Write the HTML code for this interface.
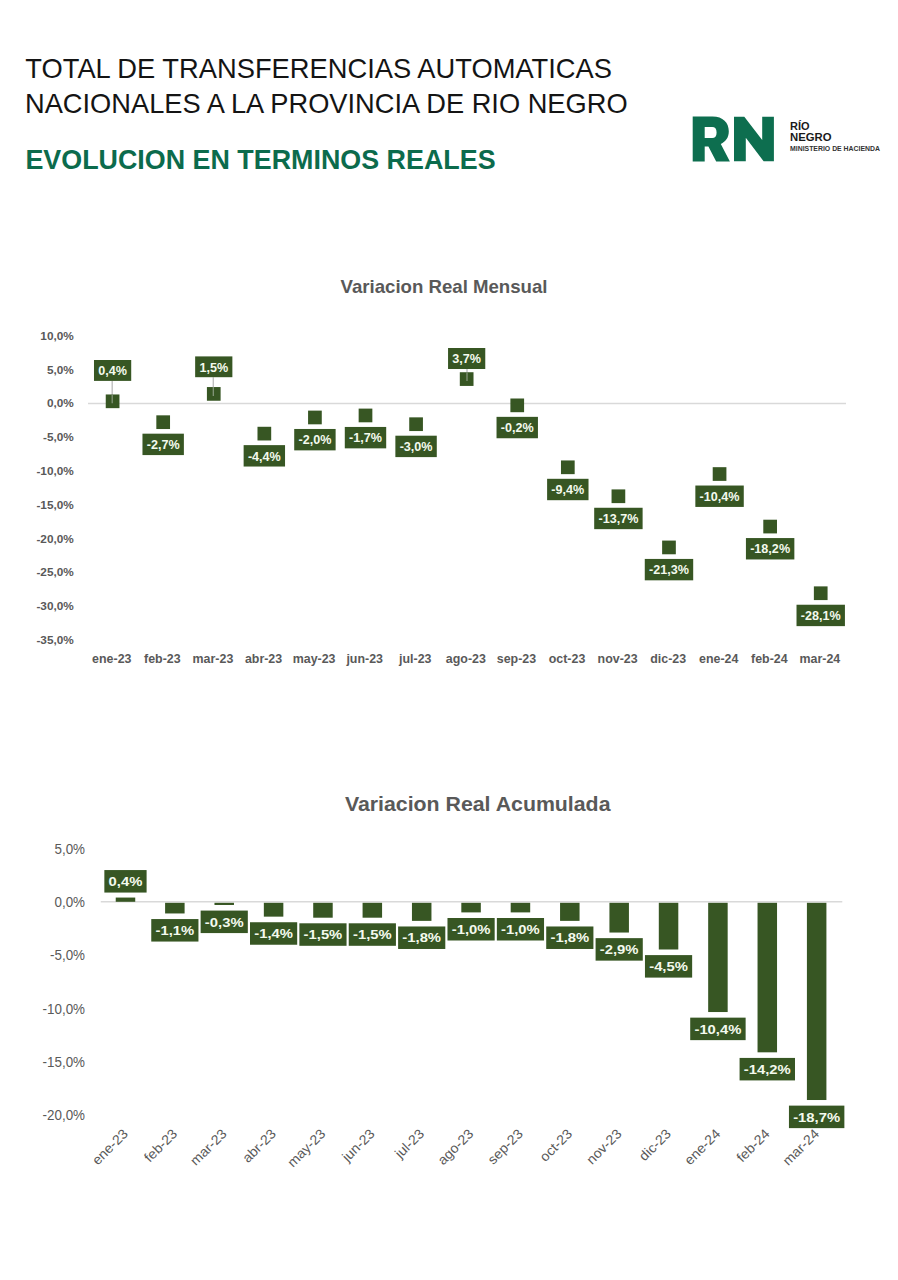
<!DOCTYPE html><html><head><meta charset="utf-8"><style>html,body{margin:0;padding:0;background:#fff;}svg{display:block;}text{font-family:"Liberation Sans",sans-serif;}</style></head><body>
<svg width="898" height="1280" viewBox="0 0 898 1280">
<rect width="898" height="1280" fill="#fff"/>
<text x="25.3" y="77.9" font-size="27.6" fill="#141414" textLength="586.7" lengthAdjust="spacingAndGlyphs">TOTAL DE TRANSFERENCIAS AUTOMATICAS</text>
<text x="25" y="113.2" font-size="27.6" fill="#141414" textLength="602.6" lengthAdjust="spacingAndGlyphs">NACIONALES A LA PROVINCIA DE RIO NEGRO</text>
<text x="25.4" y="169.1" font-size="27.4" font-weight="bold" fill="#0c6b4c" textLength="470.2" lengthAdjust="spacingAndGlyphs">EVOLUCION EN TERMINOS REALES</text>
<path fill="#0d6e4f" fill-rule="evenodd" d="M692.7,116.4 L712.5,116.4 C723,116.4 728.8,122.5 728.8,131.3 C728.8,137.5 725.8,141.8 720.8,143.9 L729.9,161.5 L716.2,161.5 L708.4,146.6 L704.7,146.6 L704.7,161.5 L692.7,161.5 Z M704.7,127 L712.2,127 C715,127 716.6,128.8 716.6,132.5 C716.6,136.2 715,138.1 712.2,138.1 L704.7,138.1 Z"/>
<path fill="#0d6e4f" d="M734,116.7 L744.3,116.7 L762.2,140 L762.2,116.7 L773.9,116.7 L773.9,161.2 L763.6,161.2 L745.8,137.8 L745.8,161.2 L734,161.2 Z"/>
<text x="790" y="130.3" font-size="11" font-weight="bold" fill="#1a1a1a" textLength="19.5" lengthAdjust="spacingAndGlyphs">RÍO</text>
<text x="790" y="140.7" font-size="11" font-weight="bold" fill="#1a1a1a" textLength="41.5" lengthAdjust="spacingAndGlyphs">NEGRO</text>
<text x="790" y="150.8" font-size="7.2" font-weight="bold" fill="#333" textLength="90" lengthAdjust="spacingAndGlyphs">MINISTERIO DE HACIENDA</text>
<text x="340.5" y="293.3" font-size="18.6" font-weight="bold" fill="#595959" textLength="207" lengthAdjust="spacingAndGlyphs">Variacion Real Mensual</text>
<text x="73.8" y="339.9" font-size="11.8" font-weight="bold" fill="#595959" text-anchor="end">10,0%</text>
<text x="73.8" y="373.7" font-size="11.8" font-weight="bold" fill="#595959" text-anchor="end">5,0%</text>
<text x="73.8" y="407.4" font-size="11.8" font-weight="bold" fill="#595959" text-anchor="end">0,0%</text>
<text x="73.8" y="441.2" font-size="11.8" font-weight="bold" fill="#595959" text-anchor="end">-5,0%</text>
<text x="73.8" y="475.0" font-size="11.8" font-weight="bold" fill="#595959" text-anchor="end">-10,0%</text>
<text x="73.8" y="508.8" font-size="11.8" font-weight="bold" fill="#595959" text-anchor="end">-15,0%</text>
<text x="73.8" y="542.5" font-size="11.8" font-weight="bold" fill="#595959" text-anchor="end">-20,0%</text>
<text x="73.8" y="576.3" font-size="11.8" font-weight="bold" fill="#595959" text-anchor="end">-25,0%</text>
<text x="73.8" y="610.1" font-size="11.8" font-weight="bold" fill="#595959" text-anchor="end">-30,0%</text>
<text x="73.8" y="643.8" font-size="11.8" font-weight="bold" fill="#595959" text-anchor="end">-35,0%</text>
<line x1="88" y1="403.5" x2="846" y2="403.5" stroke="#D9D9D9" stroke-width="1.3"/>
<text x="92.13" y="663" font-size="12.4" font-weight="bold" fill="#595959" textLength="39.35" lengthAdjust="spacingAndGlyphs">ene-23</text>
<text x="144.09" y="663" font-size="12.4" font-weight="bold" fill="#595959" textLength="36.58" lengthAdjust="spacingAndGlyphs">feb-23</text>
<rect x="156.33" y="415.33" width="13.7" height="13.7" fill="#375623"/>
<rect x="142.47" y="433.68" width="41.41" height="21.4" fill="#375623"/>
<text x="163.18" y="449.08" font-size="12.6" font-weight="bold" fill="#F4FAEE" text-anchor="middle">-2,7%</text>
<text x="192.59" y="663" font-size="12.4" font-weight="bold" fill="#595959" textLength="40.73" lengthAdjust="spacingAndGlyphs">mar-23</text>
<text x="244.90" y="663" font-size="12.4" font-weight="bold" fill="#595959" textLength="37.28" lengthAdjust="spacingAndGlyphs">abr-23</text>
<rect x="257.49" y="426.78" width="13.7" height="13.7" fill="#375623"/>
<rect x="243.63" y="445.13" width="41.41" height="21.4" fill="#375623"/>
<text x="264.34" y="460.53" font-size="12.6" font-weight="bold" fill="#F4FAEE" text-anchor="middle">-4,4%</text>
<text x="292.72" y="663" font-size="12.4" font-weight="bold" fill="#595959" textLength="42.81" lengthAdjust="spacingAndGlyphs">may-23</text>
<rect x="308.07" y="410.62" width="13.7" height="13.7" fill="#375623"/>
<rect x="294.21" y="428.97" width="41.41" height="21.4" fill="#375623"/>
<text x="314.92" y="444.37" font-size="12.6" font-weight="bold" fill="#F4FAEE" text-anchor="middle">-2,0%</text>
<text x="346.41" y="663" font-size="12.4" font-weight="bold" fill="#595959" textLength="36.57" lengthAdjust="spacingAndGlyphs">jun-23</text>
<rect x="358.65" y="408.60" width="13.7" height="13.7" fill="#375623"/>
<rect x="344.79" y="426.95" width="41.41" height="21.4" fill="#375623"/>
<text x="365.50" y="442.35" font-size="12.6" font-weight="bold" fill="#F4FAEE" text-anchor="middle">-1,7%</text>
<text x="399.06" y="663" font-size="12.4" font-weight="bold" fill="#595959" textLength="32.44" lengthAdjust="spacingAndGlyphs">jul-23</text>
<rect x="409.23" y="417.35" width="13.7" height="13.7" fill="#375623"/>
<rect x="395.37" y="435.70" width="41.41" height="21.4" fill="#375623"/>
<text x="416.08" y="451.10" font-size="12.6" font-weight="bold" fill="#F4FAEE" text-anchor="middle">-3,0%</text>
<text x="445.85" y="663" font-size="12.4" font-weight="bold" fill="#595959" textLength="40.03" lengthAdjust="spacingAndGlyphs">ago-23</text>
<text x="496.77" y="663" font-size="12.4" font-weight="bold" fill="#595959" textLength="39.35" lengthAdjust="spacingAndGlyphs">sep-23</text>
<rect x="510.39" y="398.50" width="13.7" height="13.7" fill="#375623"/>
<rect x="496.53" y="416.85" width="41.41" height="21.4" fill="#375623"/>
<text x="517.24" y="432.25" font-size="12.6" font-weight="bold" fill="#F4FAEE" text-anchor="middle">-0,2%</text>
<text x="548.73" y="663" font-size="12.4" font-weight="bold" fill="#595959" textLength="36.58" lengthAdjust="spacingAndGlyphs">oct-23</text>
<rect x="560.97" y="460.45" width="13.7" height="13.7" fill="#375623"/>
<rect x="547.11" y="478.80" width="41.41" height="21.4" fill="#375623"/>
<text x="567.82" y="494.20" font-size="12.6" font-weight="bold" fill="#F4FAEE" text-anchor="middle">-9,4%</text>
<text x="597.59" y="663" font-size="12.4" font-weight="bold" fill="#595959" textLength="40.03" lengthAdjust="spacingAndGlyphs">nov-23</text>
<rect x="611.55" y="489.41" width="13.7" height="13.7" fill="#375623"/>
<rect x="594.19" y="507.76" width="48.42" height="21.4" fill="#375623"/>
<text x="618.40" y="523.16" font-size="12.6" font-weight="bold" fill="#F4FAEE" text-anchor="middle">-13,7%</text>
<text x="650.23" y="663" font-size="12.4" font-weight="bold" fill="#595959" textLength="35.89" lengthAdjust="spacingAndGlyphs">dic-23</text>
<rect x="662.13" y="540.58" width="13.7" height="13.7" fill="#375623"/>
<rect x="644.77" y="558.93" width="48.42" height="21.4" fill="#375623"/>
<text x="668.98" y="574.33" font-size="12.6" font-weight="bold" fill="#F4FAEE" text-anchor="middle">-21,3%</text>
<text x="699.09" y="663" font-size="12.4" font-weight="bold" fill="#595959" textLength="39.35" lengthAdjust="spacingAndGlyphs">ene-24</text>
<rect x="712.71" y="467.18" width="13.7" height="13.7" fill="#375623"/>
<rect x="695.35" y="485.53" width="48.42" height="21.4" fill="#375623"/>
<text x="719.56" y="500.93" font-size="12.6" font-weight="bold" fill="#F4FAEE" text-anchor="middle">-10,4%</text>
<text x="751.05" y="663" font-size="12.4" font-weight="bold" fill="#595959" textLength="36.58" lengthAdjust="spacingAndGlyphs">feb-24</text>
<rect x="763.29" y="519.71" width="13.7" height="13.7" fill="#375623"/>
<rect x="745.93" y="538.06" width="48.42" height="21.4" fill="#375623"/>
<text x="770.14" y="553.46" font-size="12.6" font-weight="bold" fill="#F4FAEE" text-anchor="middle">-18,2%</text>
<text x="799.55" y="663" font-size="12.4" font-weight="bold" fill="#595959" textLength="40.73" lengthAdjust="spacingAndGlyphs">mar-24</text>
<rect x="813.87" y="586.38" width="13.7" height="13.7" fill="#375623"/>
<rect x="796.51" y="604.73" width="48.42" height="21.4" fill="#375623"/>
<text x="820.72" y="620.13" font-size="12.6" font-weight="bold" fill="#F4FAEE" text-anchor="middle">-28,1%</text>
<line x1="112.2" y1="380.9" x2="112.2" y2="403.3" stroke="#BFBFBF" stroke-width="1.4"/>
<rect x="105.75" y="394.46" width="13.7" height="13.7" fill="#375623"/>
<line x1="112.2" y1="394.5" x2="112.2" y2="403.3" stroke="#8a9a80" stroke-width="1.2"/>
<rect x="93.99" y="360.00" width="37.22" height="20.90" fill="#375623"/>
<text x="112.60" y="375.40" font-size="12.6" font-weight="bold" fill="#F4FAEE" text-anchor="middle">0,4%</text>
<line x1="213.3" y1="377.2" x2="213.3" y2="395.9" stroke="#BFBFBF" stroke-width="1.4"/>
<rect x="206.91" y="387.05" width="13.7" height="13.7" fill="#375623"/>
<line x1="213.3" y1="387.0" x2="213.3" y2="395.9" stroke="#8a9a80" stroke-width="1.2"/>
<rect x="195.15" y="356.40" width="37.22" height="20.80" fill="#375623"/>
<text x="213.76" y="371.80" font-size="12.6" font-weight="bold" fill="#F4FAEE" text-anchor="middle">1,5%</text>
<line x1="467.0" y1="369.0" x2="467.0" y2="381.1" stroke="#BFBFBF" stroke-width="1.4"/>
<rect x="459.81" y="372.23" width="13.7" height="13.7" fill="#375623"/>
<line x1="467.0" y1="372.2" x2="467.0" y2="381.1" stroke="#8a9a80" stroke-width="1.2"/>
<rect x="448.05" y="348.00" width="37.22" height="21.00" fill="#375623"/>
<text x="466.66" y="363.40" font-size="12.6" font-weight="bold" fill="#F4FAEE" text-anchor="middle">3,7%</text>
<text x="344.9" y="811" font-size="20.2" font-weight="bold" fill="#595959" textLength="265.6" lengthAdjust="spacingAndGlyphs">Variacion Real Acumulada</text>
<text x="54.46" y="853.6" font-size="14.6" fill="#595959" textLength="30.54" lengthAdjust="spacingAndGlyphs">5,0%</text>
<text x="54.46" y="906.9" font-size="14.6" fill="#595959" textLength="30.54" lengthAdjust="spacingAndGlyphs">0,0%</text>
<text x="50.00" y="960.2" font-size="14.6" fill="#595959" textLength="35.00" lengthAdjust="spacingAndGlyphs">-5,0%</text>
<text x="42.55" y="1013.5" font-size="14.6" fill="#595959" textLength="42.45" lengthAdjust="spacingAndGlyphs">-10,0%</text>
<text x="42.55" y="1066.8" font-size="14.6" fill="#595959" textLength="42.45" lengthAdjust="spacingAndGlyphs">-15,0%</text>
<text x="42.55" y="1120.1" font-size="14.6" fill="#595959" textLength="42.45" lengthAdjust="spacingAndGlyphs">-20,0%</text>
<line x1="100.8" y1="901.8" x2="842.3" y2="901.8" stroke="#D9D9D9" stroke-width="1.6"/>
<rect x="115.73" y="897.56" width="19.5" height="4.24" fill="#375623"/>
<rect x="104.35" y="870.06" width="42.25" height="22.5" fill="#375623"/>
<text x="108.60" y="886.06" font-size="12.8" font-weight="bold" fill="#F4FAEE" textLength="33.75" lengthAdjust="spacingAndGlyphs">0,4%</text>
<text transform="translate(97.64,1165.74) rotate(-45)" font-size="13.6" fill="#595959" textLength="44.04" lengthAdjust="spacingAndGlyphs">ene-23</text>
<rect x="165.10" y="902.8" width="19.5" height="10.66" fill="#375623"/>
<rect x="151.26" y="919.06" width="47.19" height="22.5" fill="#375623"/>
<text x="155.51" y="935.06" font-size="12.8" font-weight="bold" fill="#F4FAEE" textLength="38.69" lengthAdjust="spacingAndGlyphs">-1,1%</text>
<text transform="translate(149.79,1162.96) rotate(-45)" font-size="13.6" fill="#595959" textLength="40.10" lengthAdjust="spacingAndGlyphs">feb-23</text>
<rect x="214.47" y="902.8" width="19.5" height="2.18" fill="#375623"/>
<rect x="200.63" y="910.58" width="47.19" height="22.5" fill="#375623"/>
<text x="204.88" y="926.58" font-size="12.8" font-weight="bold" fill="#F4FAEE" textLength="38.69" lengthAdjust="spacingAndGlyphs">-0,3%</text>
<text transform="translate(195.84,1166.28) rotate(-45)" font-size="13.6" fill="#595959" textLength="44.80" lengthAdjust="spacingAndGlyphs">mar-23</text>
<rect x="263.84" y="902.8" width="19.5" height="13.84" fill="#375623"/>
<rect x="250.00" y="922.24" width="47.19" height="22.5" fill="#375623"/>
<text x="254.25" y="938.24" font-size="12.8" font-weight="bold" fill="#F4FAEE" textLength="38.69" lengthAdjust="spacingAndGlyphs">-1,4%</text>
<text transform="translate(247.98,1163.51) rotate(-45)" font-size="13.6" fill="#595959" textLength="40.88" lengthAdjust="spacingAndGlyphs">abr-23</text>
<rect x="313.21" y="902.8" width="19.5" height="14.90" fill="#375623"/>
<rect x="299.37" y="923.30" width="47.19" height="22.5" fill="#375623"/>
<text x="303.62" y="939.30" font-size="12.8" font-weight="bold" fill="#F4FAEE" textLength="38.69" lengthAdjust="spacingAndGlyphs">-1,5%</text>
<text transform="translate(292.91,1167.95) rotate(-45)" font-size="13.6" fill="#595959" textLength="47.16" lengthAdjust="spacingAndGlyphs">may-23</text>
<rect x="362.58" y="902.8" width="19.5" height="14.90" fill="#375623"/>
<rect x="348.74" y="923.30" width="47.19" height="22.5" fill="#375623"/>
<text x="352.99" y="939.30" font-size="12.8" font-weight="bold" fill="#F4FAEE" textLength="38.69" lengthAdjust="spacingAndGlyphs">-1,5%</text>
<text transform="translate(347.83,1162.40) rotate(-45)" font-size="13.6" fill="#595959" textLength="39.31" lengthAdjust="spacingAndGlyphs">jun-23</text>
<rect x="411.95" y="902.8" width="19.5" height="18.08" fill="#375623"/>
<rect x="398.11" y="926.48" width="47.19" height="22.5" fill="#375623"/>
<text x="402.36" y="942.48" font-size="12.8" font-weight="bold" fill="#F4FAEE" textLength="38.69" lengthAdjust="spacingAndGlyphs">-1,8%</text>
<text transform="translate(400.54,1159.06) rotate(-45)" font-size="13.6" fill="#595959" textLength="34.59" lengthAdjust="spacingAndGlyphs">jul-23</text>
<rect x="461.32" y="902.8" width="19.5" height="9.60" fill="#375623"/>
<rect x="447.48" y="918.00" width="47.19" height="22.5" fill="#375623"/>
<text x="451.73" y="934.00" font-size="12.8" font-weight="bold" fill="#F4FAEE" textLength="38.69" lengthAdjust="spacingAndGlyphs">-1,0%</text>
<text transform="translate(443.23,1165.74) rotate(-45)" font-size="13.6" fill="#595959" textLength="44.04" lengthAdjust="spacingAndGlyphs">ago-23</text>
<rect x="510.69" y="902.8" width="19.5" height="9.60" fill="#375623"/>
<rect x="496.85" y="918.00" width="47.19" height="22.5" fill="#375623"/>
<text x="501.10" y="934.00" font-size="12.8" font-weight="bold" fill="#F4FAEE" textLength="38.69" lengthAdjust="spacingAndGlyphs">-1,0%</text>
<text transform="translate(493.16,1165.18) rotate(-45)" font-size="13.6" fill="#595959" textLength="43.24" lengthAdjust="spacingAndGlyphs">sep-23</text>
<rect x="560.06" y="902.8" width="19.5" height="18.08" fill="#375623"/>
<rect x="546.22" y="926.48" width="47.19" height="22.5" fill="#375623"/>
<text x="550.47" y="942.48" font-size="12.8" font-weight="bold" fill="#F4FAEE" textLength="38.69" lengthAdjust="spacingAndGlyphs">-1,8%</text>
<text transform="translate(545.32,1162.39) rotate(-45)" font-size="13.6" fill="#595959" textLength="39.31" lengthAdjust="spacingAndGlyphs">oct-23</text>
<rect x="609.43" y="902.8" width="19.5" height="29.74" fill="#375623"/>
<rect x="595.59" y="938.14" width="47.19" height="22.5" fill="#375623"/>
<text x="599.84" y="954.14" font-size="12.8" font-weight="bold" fill="#F4FAEE" textLength="38.69" lengthAdjust="spacingAndGlyphs">-2,9%</text>
<text transform="translate(591.90,1165.18) rotate(-45)" font-size="13.6" fill="#595959" textLength="43.24" lengthAdjust="spacingAndGlyphs">nov-23</text>
<rect x="658.80" y="902.8" width="19.5" height="46.70" fill="#375623"/>
<rect x="644.96" y="955.10" width="47.19" height="22.5" fill="#375623"/>
<text x="649.21" y="971.10" font-size="12.8" font-weight="bold" fill="#F4FAEE" textLength="38.69" lengthAdjust="spacingAndGlyphs">-4,5%</text>
<text transform="translate(644.61,1161.84) rotate(-45)" font-size="13.6" fill="#595959" textLength="38.52" lengthAdjust="spacingAndGlyphs">dic-23</text>
<rect x="708.17" y="902.8" width="19.5" height="109.24" fill="#375623"/>
<rect x="690.21" y="1017.64" width="55.42" height="22.5" fill="#375623"/>
<text x="694.46" y="1033.64" font-size="12.8" font-weight="bold" fill="#F4FAEE" textLength="46.92" lengthAdjust="spacingAndGlyphs">-10,4%</text>
<text transform="translate(690.08,1165.74) rotate(-45)" font-size="13.6" fill="#595959" textLength="44.04" lengthAdjust="spacingAndGlyphs">ene-24</text>
<rect x="757.54" y="902.8" width="19.5" height="149.52" fill="#375623"/>
<rect x="739.58" y="1057.92" width="55.42" height="22.5" fill="#375623"/>
<text x="743.83" y="1073.92" font-size="12.8" font-weight="bold" fill="#F4FAEE" textLength="46.92" lengthAdjust="spacingAndGlyphs">-14,2%</text>
<text transform="translate(742.23,1162.96) rotate(-45)" font-size="13.6" fill="#595959" textLength="40.10" lengthAdjust="spacingAndGlyphs">feb-24</text>
<rect x="806.91" y="902.8" width="19.5" height="197.22" fill="#375623"/>
<rect x="788.95" y="1105.62" width="55.42" height="22.5" fill="#375623"/>
<text x="793.20" y="1121.62" font-size="12.8" font-weight="bold" fill="#F4FAEE" textLength="46.92" lengthAdjust="spacingAndGlyphs">-18,7%</text>
<text transform="translate(788.28,1166.28) rotate(-45)" font-size="13.6" fill="#595959" textLength="44.80" lengthAdjust="spacingAndGlyphs">mar-24</text>
</svg></body></html>
